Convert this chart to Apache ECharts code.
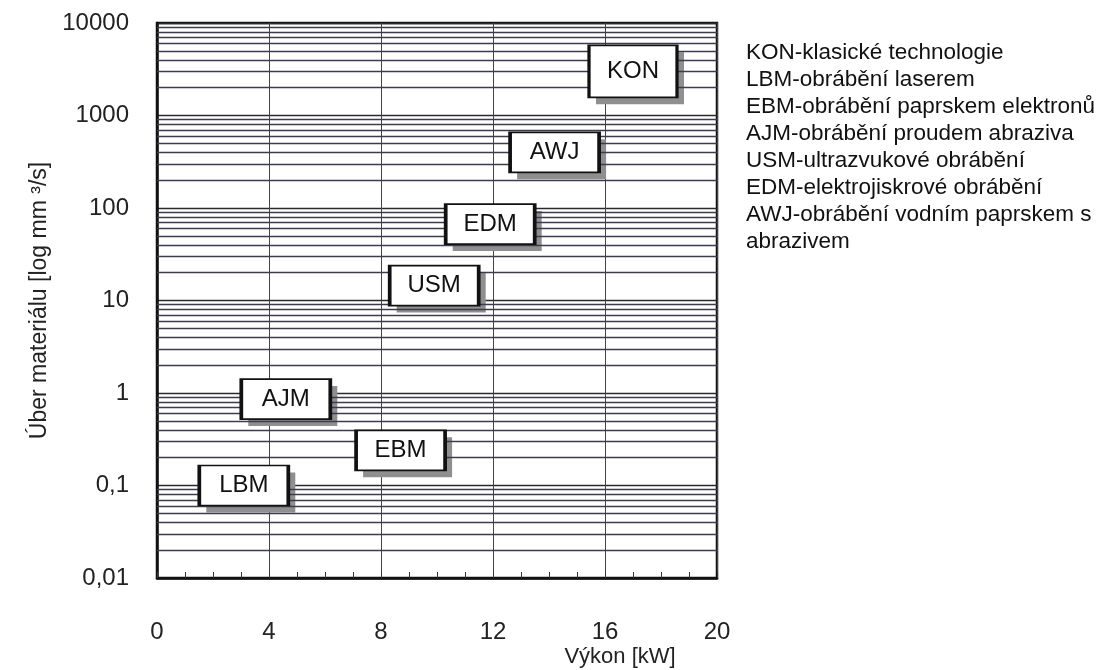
<!DOCTYPE html>
<html><head><meta charset="utf-8">
<script src="https://cdn.jsdelivr.net/npm/echarts@6/dist/echarts.min.js"></script>
<style>html,body{margin:0;padding:0;background:#fff}#c{width:1113px;height:670px}</style>
</head><body><div id="c"></div>
<script>
// ---- data ----
const methods = ['KON', 'AWJ', 'EDM', 'USM', 'AJM', 'EBM', 'LBM'];
const power   = [17.0, 14.2, 11.9, 9.9, 4.6, 8.7, 3.1];          // Výkon [kW]
const removal = [3000, 400, 67, 14.5, 0.86, 0.24, 0.1];          // Úber materiálu [mm3/s]
const xTickValues = [0, 4, 8, 12, 16, 20];
const yTickLabels = ['0,01', '0,1', '1', '10', '100', '1000', '10000'];
const legendLines = [
  'KON-klasické technologie',
  'LBM-obrábění laserem',
  'EBM-obrábění paprskem elektronů',
  'AJM-obrábění proudem abraziva',
  'USM-ultrazvukové obrábění',
  'EDM-elektrojiskrové obrábění',
  'AWJ-obrábění vodním paprskem s',
  'abrazivem'
];
const xName = 'Výkon [kW]';
const yName = 'Úber materiálu [log mm ³/s]';

// ---- build ----
const SANS = '"Liberation Sans", Arial, Helvetica, sans-serif';

// log-paper minor lines 2..9 x 10^k for each decade of the axis
const minorLines = [];
for (let d = 0; d < yTickLabels.length - 1; d++) {
  const base = Math.pow(10, d - 2);
  for (let m = 2; m <= 9; m++) minorLines.push({ yAxis: +(m * base).toPrecision(3) });
}

const boxData = methods.map((m, i) => ({ name: m, value: [power[i], removal[i]] }));
const boxSize = (val, p) => p.name === 'KON' ? [88, 52] : [89, 40];

const chart = echarts.init(document.getElementById('c'), null, { renderer: 'canvas' });
chart.setOption({
  backgroundColor: '#fff',
  animation: false,
  title: {
    text: legendLines.join('\n'),
    left: 741, top: 34,
    textStyle: { fontFamily: SANS, fontSize: 22.5, fontWeight: 'normal', lineHeight: 27, color: '#111' }
  },
  grid: {
    left: 157, right: 396, top: 23, bottom: 92,
    show: true, borderColor: '#111', borderWidth: 2.5, backgroundColor: 'transparent'
  },
  xAxis: {
    type: 'value', min: xTickValues[0], max: xTickValues[xTickValues.length - 1], interval: 4,
    axisLine: { show: true, lineStyle: { color: '#111', width: 2.5 } },
    axisTick: { show: true, inside: true, length: 6, lineStyle: { color: '#333' } },
    minorTick: { show: true, splitNumber: 4, length: 6, lineStyle: { color: '#333' } },
    splitLine: { show: true, lineStyle: { color: '#444', width: 1 } },
    axisLabel: { margin: 42, fontFamily: SANS, fontSize: 24, color: '#222' }
  },
  yAxis: {
    type: 'log', logBase: 10, min: 0.01, max: 10000,
    name: yName, nameLocation: 'middle', nameGap: 94,
    nameTextStyle: { fontFamily: SANS, fontSize: 23, color: '#222' },
    axisLine: { show: true, lineStyle: { color: '#111', width: 2.5 } },
    axisTick: { show: false },
    splitLine: { show: true, lineStyle: { color: '#2a2a2a', width: 1.4 } },
    axisLabel: {
      margin: 28, fontFamily: SANS, fontSize: 24, color: '#222',
      formatter: v => yTickLabels[Math.round(Math.log10(v)) + 2]
    }
  },
  graphic: [{
    type: 'text', x: 620, y: 657, z: 10,
    style: { text: xName, textAlign: 'center', textVerticalAlign: 'middle', font: '22px ' + SANS, fill: '#222' }
  }],
  series: [
    {
      type: 'line', data: [], z: 1, silent: true,
      markLine: {
        silent: true, symbol: 'none', animation: false,
        label: { show: false },
        lineStyle: { type: 'solid', color: '#3e3b4e', width: 1.3 },
        data: minorLines
      }
    },
    {
      // drop shadow of the label boxes
      type: 'scatter', z: 4, silent: true,
      symbol: 'rect', symbolSize: boxSize, symbolOffset: [7, 7],
      itemStyle: { opacity: 1, color: '#8f8f8f' },
      label: { show: false },
      emphasis: { disabled: true },
      data: boxData
    },
    {
      type: 'scatter', z: 5,
      symbol: 'rect', symbolSize: boxSize,
      itemStyle: { opacity: 1, color: '#fff', borderColor: '#111', borderWidth: 2.5 },
      label: { show: true, position: 'inside', formatter: '{b}', fontFamily: SANS, fontSize: 24, color: '#111' },
      emphasis: { disabled: true },
      data: boxData
    }
  ]
});
</script></body></html>
